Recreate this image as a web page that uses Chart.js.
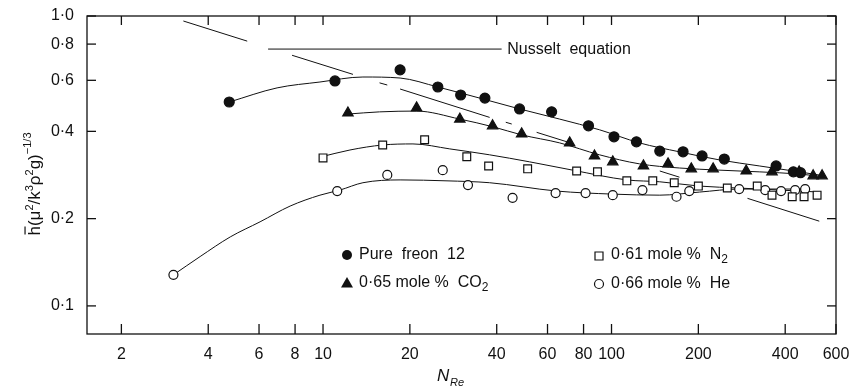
<!DOCTYPE html>
<html>
<head>
<meta charset="utf-8">
<script src="https://cdn.jsdelivr.net/npm/chart.js@4"></script>
<style>
  html, body { margin: 0; padding: 0; background: #fff; }
  canvas { display: block; }
</style>
</head>
<body>
<canvas id="chart" width="856" height="387"></canvas>
<script>
const FONT = '"Liberation Sans", Arial, sans-serif';
const INK = '#111';

// axis ticks
const xTicks = [2, 4, 6, 8, 10, 20, 40, 60, 80, 100, 200, 400, 600];
const yTicks = [0.1, 0.2, 0.4, 0.6, 0.8, 1.0];
const yTickLabels = ['0·1', '0·2', '0·4', '0·6', '0·8', '1·0'];

// measured points
const freonX = [4.73, 11.0, 18.5, 25.0, 30.0, 36.4, 48.0, 62.0, 83.2, 102, 122, 147, 177, 206, 246, 372, 427, 452];
const freonY = [0.505, 0.597, 0.652, 0.569, 0.534, 0.521, 0.478, 0.467, 0.418, 0.383, 0.368, 0.342, 0.340, 0.329, 0.321, 0.304, 0.290, 0.288];

const co2X = [12.2, 21.1, 29.8, 38.7, 48.8, 71.6, 87.3, 101, 129, 157, 189, 225, 293, 360, 447, 500, 537];
const co2Y = [0.463, 0.482, 0.441, 0.418, 0.392, 0.365, 0.329, 0.314, 0.304, 0.309, 0.297, 0.297, 0.292, 0.290, 0.290, 0.281, 0.281];

const n2X = [10.0, 16.1, 22.5, 31.5, 37.5, 51.2, 75.7, 89.4, 113, 139, 165, 200, 252, 320, 360, 423, 465, 516];
const n2Y = [0.324, 0.359, 0.374, 0.327, 0.304, 0.297, 0.292, 0.290, 0.270, 0.270, 0.266, 0.259, 0.255, 0.259, 0.241, 0.238, 0.238, 0.241];

const heX = [3.03, 11.2, 16.7, 26.0, 31.8, 45.4, 64.0, 81.3, 101, 128, 168, 186, 277, 341, 387, 433, 469];
const heY = [0.128, 0.249, 0.283, 0.294, 0.261, 0.236, 0.245, 0.245, 0.241, 0.251, 0.238, 0.249, 0.253, 0.251, 0.249, 0.251, 0.253];

// hand-drawn curves through each set
const freonCurveX = [4.73, 6.93, 9.76, 13.75, 18.5, 25.0, 34.9, 48.0, 66.1, 90.9, 125, 172, 236, 325, 447, 546];
const freonCurveY = [0.505, 0.565, 0.592, 0.616, 0.611, 0.569, 0.521, 0.478, 0.441, 0.405, 0.365, 0.340, 0.319, 0.304, 0.290, 0.281];

const co2CurveX = [12.2, 15.7, 21.1, 29.8, 39.1, 48.8, 66.1, 90.9, 125, 172, 236, 325, 447, 546];
const co2CurveY = [0.459, 0.467, 0.470, 0.441, 0.414, 0.389, 0.365, 0.332, 0.309, 0.299, 0.294, 0.290, 0.285, 0.279];

const n2CurveX = [9.76, 12.4, 16.1, 20.5, 27.5, 37.8, 52.0, 73.3, 113, 147, 202, 277, 381, 525];
const n2CurveY = [0.326, 0.345, 0.359, 0.362, 0.348, 0.332, 0.314, 0.294, 0.272, 0.268, 0.259, 0.255, 0.251, 0.247];

const heCurveX = [3.03, 3.75, 4.77, 6.05, 7.69, 9.76, 11.45, 13.75, 18.5, 26.9, 37.8, 64.5, 101, 147, 202, 277, 381, 484];
const heCurveY = [0.128, 0.148, 0.173, 0.195, 0.221, 0.241, 0.251, 0.266, 0.272, 0.270, 0.266, 0.249, 0.243, 0.241, 0.247, 0.253, 0.253, 0.253];

// Nusselt equation line
const nusseltX = [6.45, 41.6];
const nusseltY = [0.769, 0.769];

// broken diagonal line, segment end points
const diagX = [[3.28, 5.46], [7.81, 12.7], [15.7, 16.7], [18.5, 37.8], [43.0, 45.1], [55.0, 73.3], [147, 172], [296, 525]];
const diagY = [[0.961, 0.819], [0.732, 0.629], [0.588, 0.578], [0.560, 0.447], [0.430, 0.424], [0.397, 0.363], [0.292, 0.278], [0.235, 0.196]];

const pts = (xs, ys) => xs.map((v, i) => ({ x: v, y: ys[i] }));

const curve = (xs, ys) => ({
    data: pts(xs, ys),
    showLine: true,
    borderColor: INK,
    borderWidth: 1,
    pointRadius: 0,
    tension: 0.4,
    cubicInterpolationMode: 'monotone',
    order: 2
});

const markers = (xs, ys, style, r, fill) => ({
    data: pts(xs, ys),
    showLine: false,
    pointStyle: style,
    pointRadius: r,
    pointBackgroundColor: fill,
    pointBorderColor: INK,
    pointBorderWidth: 1.2,
    order: 0
});

const datasets = [
    markers(freonX, freonY, 'circle', 5, INK),
    markers(co2X, co2Y, 'triangle', 6, INK),
    markers(n2X, n2Y, 'rect', 5.5, '#fff'),
    markers(heX, heY, 'circle', 4.5, '#fff'),
    curve(freonCurveX, freonCurveY),
    curve(co2CurveX, co2CurveY),
    curve(n2CurveX, n2CurveY),
    curve(heCurveX, heCurveY),
    { ...curve(nusseltX, nusseltY), tension: 0 }
];
diagX.forEach((seg, i) => datasets.push({ ...curve(seg, diagY[i]), tension: 0 }));

// text made of pieces: [text, size, baseline shift, overbar]
function drawRich(ctx, pieces, x, y, align) {
    let w = 0;
    pieces.forEach(([t, s]) => { ctx.font = s + 'px ' + FONT; w += ctx.measureText(t).width; });
    let cx = align === 'center' ? x - w / 2 : x;
    pieces.forEach(([t, s, dy, bar]) => {
        ctx.font = s + 'px ' + FONT;
        const tw = ctx.measureText(t).width;
        ctx.fillText(t, cx, y + dy);
        if (bar) {
            ctx.beginPath();
            ctx.moveTo(cx + 1, y + dy - s * 0.88);
            ctx.lineTo(cx + tw - 0.5, y + dy - s * 0.88);
            ctx.lineWidth = 1.2;
            ctx.stroke();
        }
        cx += tw;
    });
}

// frame, inward ticks, legend and axis titles
const decor = {
    id: 'decor',
    afterDraw(chart) {
        const { ctx, chartArea: a, scales: { x, y } } = chart;
        const line = (x1, y1, x2, y2) => { ctx.beginPath(); ctx.moveTo(x1, y1); ctx.lineTo(x2, y2); ctx.stroke(); };
        ctx.save();
        ctx.strokeStyle = INK;
        ctx.lineWidth = 1.3;
        ctx.strokeRect(a.left, a.top, a.right - a.left, a.bottom - a.top);
        xTicks.forEach(v => {
            const px = x.getPixelForValue(v);
            line(px, a.bottom, px, a.bottom - 10);
            line(px, a.top, px, a.top + 9);
        });
        yTicks.forEach(v => {
            const py = y.getPixelForValue(v);
            line(a.left, py, a.left + 9, py);
            line(a.right, py, a.right - 9, py);
        });

        // Nusselt label
        ctx.fillStyle = INK;
        ctx.font = '16px ' + FONT;
        ctx.textBaseline = 'middle';
        ctx.textAlign = 'left';
        ctx.fillText('Nusselt  equation', x.getPixelForValue(43.5), y.getPixelForValue(0.769) + 1);

        // legend
        const entries = [
            [347, 255, 'circle-f', [['Pure  freon  12', 16, 0]]],
            [347, 283, 'tri', [['0·65 mole %  CO', 16, 0], ['2', 12, 5]]],
            [599, 255, 'rect', [['0·61 mole %  N', 16, 0], ['2', 12, 5]]],
            [599, 284, 'circle-o', [['0·66 mole %  He', 16, 0]]]
        ];
        ctx.lineWidth = 1.2;
        entries.forEach(([mx, my, kind, label]) => {
            ctx.beginPath();
            if (kind === 'circle-f') {
                ctx.arc(mx, my, 5, 0, Math.PI * 2);
                ctx.fill();
            } else if (kind === 'tri') {
                ctx.moveTo(mx, my - 6); ctx.lineTo(mx + 6, my + 4.5); ctx.lineTo(mx - 6, my + 4.5); ctx.closePath();
                ctx.fill();
            } else if (kind === 'rect') {
                ctx.rect(mx - 4, my - 3, 8, 8);
                ctx.stroke();
            } else {
                ctx.arc(mx, my, 4.5, 0, Math.PI * 2);
                ctx.stroke();
            }
            drawRich(ctx, label, mx + 12, my, 'left');
        });

        // x title
        ctx.textBaseline = 'alphabetic';
        ctx.font = 'italic 17px ' + FONT;
        ctx.fillText('N', 437, 381);
        ctx.font = 'italic 11px ' + FONT;
        ctx.fillText('Re', 450, 386);

        // y title
        ctx.translate(40, 184);
        ctx.rotate(-Math.PI / 2);
        drawRich(ctx, [
            ['h', 17, 0, true], ['(μ', 17, 0], ['2', 11, -7], ['/k', 17, 0], ['3', 11, -7],
            ['ρ', 17, 0], ['2', 11, -7], ['g)', 17, 0], ['−1/3', 11, -9]
        ], 0, 0, 'center');
        ctx.restore();
    }
};

new Chart(document.getElementById('chart'), {
    type: 'scatter',
    data: { datasets },
    options: {
        responsive: false,
        animation: false,
        layout: { padding: { top: 16, right: 20, left: 0, bottom: 0 } },
        plugins: { legend: { display: false }, tooltip: { enabled: false } },
        scales: {
            x: {
                type: 'logarithmic',
                min: 1.52,
                max: 600,
                afterBuildTicks: s => { s.ticks = xTicks.map(v => ({ value: v })); },
                afterFit: s => { s.height = 53; },
                grid: { display: false },
                border: { display: false },
                ticks: {
                    autoSkip: false, maxRotation: 0, padding: 3, color: INK,
                    font: { size: 16, family: FONT },
                    callback: v => String(v)
                }
            },
            y: {
                type: 'logarithmic',
                min: 0.08,
                max: 1.0,
                afterBuildTicks: s => { s.ticks = yTicks.map(v => ({ value: v })); },
                afterFit: s => { s.width = 87; },
                grid: { display: false },
                border: { display: false },
                ticks: {
                    autoSkip: false, padding: 5, color: INK,
                    font: { size: 16, family: FONT },
                    callback: v => yTickLabels[yTicks.indexOf(v)]
                }
            }
        }
    },
    plugins: [decor]
});
</script>
</body>
</html>
